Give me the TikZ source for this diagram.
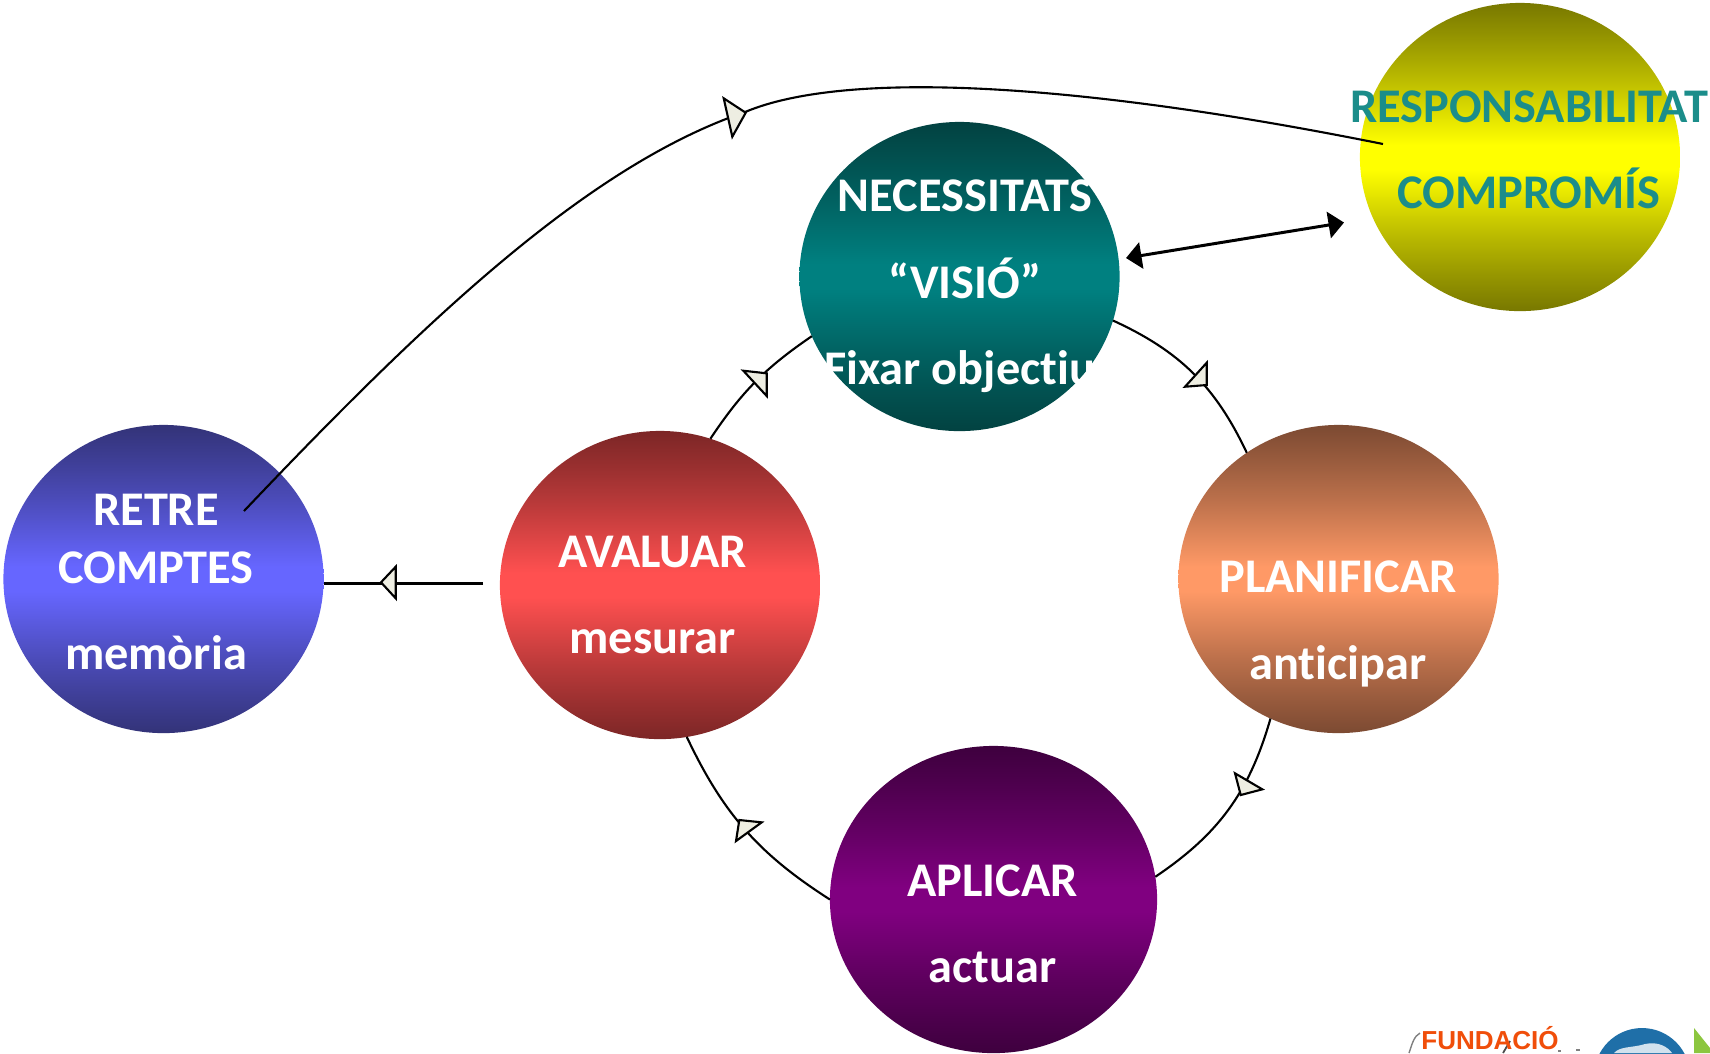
\documentclass[tikz,border=0pt]{standalone}
\usepackage{fontspec}
\setmainfont{Carlito}[Ligatures=CommonOff]
\newfontfamily\logofont{Liberation Sans}
\usetikzlibrary{shapes.geometric,arrows.meta}
\definecolor{tealmid}{HTML}{008080}
\definecolor{tealdark}{HTML}{024241}
\definecolor{yellowmid}{HTML}{FFFF00}
\definecolor{yellowdark}{HTML}{787800}
\definecolor{bluemid}{HTML}{6666FF}
\definecolor{bluedark}{HTML}{333378}
\definecolor{redmid}{HTML}{FF5050}
\definecolor{reddark}{HTML}{7C2626}
\definecolor{orangemid}{HTML}{FF9966}
\definecolor{orangedark}{HTML}{7C4A32}
\definecolor{purplemid}{HTML}{800080}
\definecolor{purpledark}{HTML}{3E003E}
\definecolor{tipfill}{HTML}{EEEEE2}
\definecolor{comptext}{HTML}{1B8D8A}
\definecolor{logoorange}{HTML}{F04E0A}
\definecolor{logoblue}{HTML}{1F6FA8}
\definecolor{logogreen}{HTML}{8CC63F}
\newcommand{\bubbleshade}[3]{\pgfdeclareverticalshading{#1}{100bp}{
  color(0bp)=(#3); color(25bp)=(#3); color(31.25bp)=(#2!24!#3); color(37.5bp)=(#2!50!#3);
  color(43.75bp)=(#2!80!#3); color(48bp)=(#2); color(52bp)=(#2); color(56.25bp)=(#2!80!#3);
  color(62.5bp)=(#2!50!#3); color(68.75bp)=(#2!24!#3); color(75bp)=(#3); color(100bp)=(#3)}}
\bubbleshade{tealshade}{tealmid}{tealdark}
\bubbleshade{yellowshade}{yellowmid}{yellowdark}
\bubbleshade{blueshade}{bluemid}{bluedark}
\bubbleshade{redshade}{redmid}{reddark}
\bubbleshade{orangeshade}{orangemid}{orangedark}
\bubbleshade{purpleshade}{purplemid}{purpledark}
\tikzset{
  bubble/.style={ellipse,inner sep=0pt,outer sep=0pt,shade,shading=#1},
  caption/.style={align=center,text=white,font=\fontsize{13.75}{24.6}\selectfont\bfseries},
  link/.style={black,line width=0.6pt},
  tipmark/.style={draw=black,fill=tipfill,line width=0.6pt,line join=miter},
}
\begin{document}
\begin{tikzpicture}[x=0.01cm,y=-0.01cm]
      \useasboundingbox (0,0) rectangle (1710,1053);
      \draw
        (959.5,276.5) node[bubble=tealshade,minimum width=3.2cm,minimum height=3.09cm] (necess){}
        (1338.5,579) node[bubble=orangeshade,minimum width=3.2cm,minimum height=3.08cm] (planif){}
        (993.5,899.5) node[bubble=purpleshade,minimum width=3.27cm,minimum height=3.07cm] (aplicar){}
        (660,585) node[bubble=redshade,minimum width=3.2cm,minimum height=3.08cm] (avaluar){}
        (163.5,579) node[bubble=blueshade,minimum width=3.2cm,minimum height=3.08cm] (retre){}
        (1520,157) node[bubble=yellowshade,minimum width=3.2cm,minimum height=3.08cm] (respons){};
      \draw
        (965,286.5) node[caption] (necesstext){NECESSITATS\\“VISIÓ”\\Fixar objectiu\rule{3pt}{0pt}}
        (1338,624) node[caption] (planiftext){PLANIFICAR\\anticipar}
        (992.5,924) node[caption] (aplicartext){APLICAR\\actuar}
        (652.5,595) node[caption] (avaluartext){AVALUAR\\mesurar}
        (156,582) node[caption] (retretext){RETRE\\[-8.1pt]COMPTES\\memòria}
        (1529,150) node[caption,text=comptext] (responstext){RESPONSABILITAT\\COMPROMÍS};
      \coordinate (retrefree) at (244,511);
      \coordinate (bend) at (745,112);
      \coordinate (responsfree) at (1383,144);
      \coordinate (avaluarfree) at (483,583.5);
      \coordinate (necessfree) at (1126,258);
      \coordinate (responsnear) at (1344,222.5);
      \begin{scope}[link]
        \draw (necess.-16) to[bend left=20] (planif.126);
        \draw (planif.-116) to[bend left=20] (aplicar.8);
        \draw (aplicar.180) to[bend left=16] (avaluar.-80);
        \draw (avaluar.71) to[bend left=11] (necess.-158);
        \draw (avaluarfree) -- (avaluarfree -| retre.east);
        \draw (retrefree) .. controls (430,315) and (590,165) .. (bend);
        \draw (bend) .. controls (850,68) and (1090,85) .. (responsfree);
        \draw[line width=0.85pt,{Triangle[length=4.4pt,width=7.5pt]}-{Triangle[length=4.4pt,width=7.5pt]}] (necessfree) -- (responsnear);
      \end{scope}
      \draw[tipmark] (723.7,98.3) -- (732.3,136.7) -- (745.7,112.7) -- cycle;
      \draw[tipmark] (743.3,370.7) -- (766.7,373.3) -- (766.7,396) -- cycle;
      \draw[tipmark] (1185,386.7) -- (1206.7,362.7) -- (1206.7,385) -- cycle;
      \draw[tipmark] (1235,773.3) -- (1262.3,789.3) -- (1240.7,795) -- cycle;
      \draw[tipmark] (739.3,820) -- (761.7,822.3) -- (736,841) -- cycle;
      \draw[tipmark] (381,582.3) -- (395.7,566.7) -- (395.7,598.3) -- cycle;
      % logo cut off by the page edge
      \begin{scope}
        \clip (0,0) rectangle (1710,1053);
        \fill[logoblue] (1642,1076) circle (48);
        \fill[white!80!logoblue] (1614,1053) .. controls (1620,1046) and (1632,1048) .. (1645,1044) .. controls (1658,1041) and (1668,1047) .. (1672,1053) -- cycle;
        \fill[logogreen] (1694,1028) -- (1710,1048) -- (1710,1053) -- (1694,1053) -- cycle;
        \draw[gray,line width=0.4pt] (1420,1033) .. controls (1414,1036) and (1412,1044) .. (1409,1053);
        \draw[black!70,line width=0.5pt] (1510,1041) -- (1503,1053);
        \draw[gray,line width=0.5pt] (1558,1051) -- (1561,1051) (1576,1050) -- (1580,1050);
        \draw (1490,1038) node[inner sep=0pt,text=logoorange,font=\logofont\fontsize{7.4}{8}\selectfont\bfseries] (fundacio){FUNDACIÓ};
      \end{scope}
    \end{tikzpicture}
\end{document}
